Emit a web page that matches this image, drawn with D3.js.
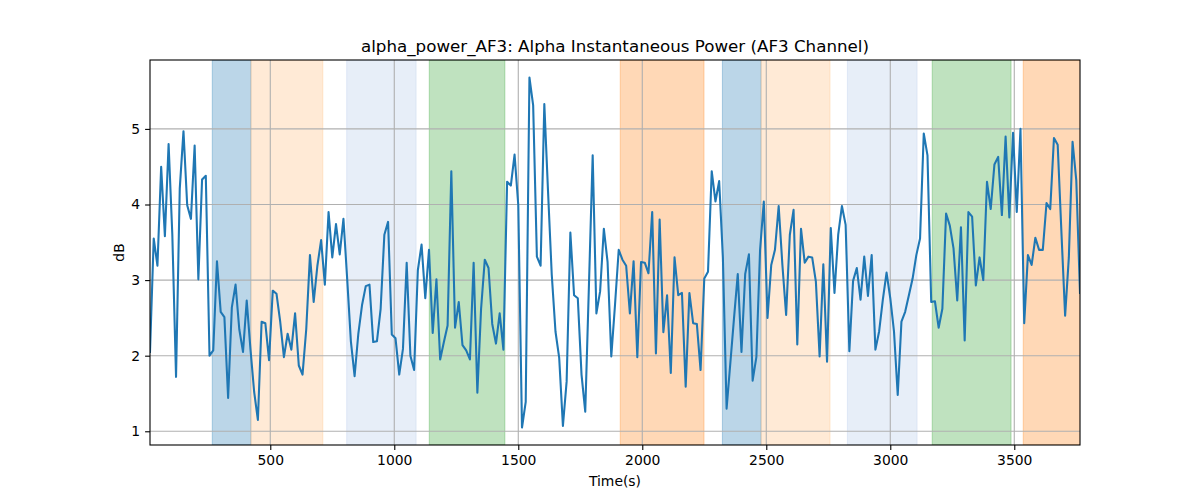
<!DOCTYPE html>
<html>
<head>
<meta charset="utf-8">
<script src="https://cdn.jsdelivr.net/npm/d3@7"></script>
<style>
  body { margin: 0; background: #fff; }
  svg { display: block; font-family: "DejaVu Sans", sans-serif; }
  .tick text { font-size: 13.9px; fill: #000; }
</style>
</head>
<body>
<div id="chart"></div>
<script>
// ==== DATA ====
const STEP = 15; // seconds between samples
const POWER = [
  2.05, 3.55, 3.19, 4.50, 3.58, 4.80, 3.60, 1.72, 4.21, 4.97,
  3.99, 3.81, 4.78, 3.01, 4.33, 4.38, 2.00, 2.07, 3.25, 2.58,
  2.51, 1.44, 2.64, 2.94, 2.35, 2.05, 2.73, 2.09, 1.52, 1.15,
  2.45, 2.43, 1.94, 2.86, 2.82, 2.45, 1.98, 2.29, 2.08, 2.56,
  1.87, 1.75, 2.35, 3.33, 2.71, 3.19, 3.53, 2.94, 3.90, 3.30,
  3.74, 3.34, 3.81, 3.02, 2.19, 1.73, 2.29, 2.67, 2.92, 2.94,
  2.18, 2.19, 2.62, 3.60, 3.77, 2.28, 2.23, 1.75, 2.09, 3.23,
  2.00, 1.81, 3.13, 3.47, 2.76, 3.40, 2.30, 3.01, 1.95, 2.18,
  2.40, 4.44, 2.37, 2.71, 2.14, 2.07, 1.95, 3.23, 1.51, 2.62,
  3.27, 3.16, 2.42, 2.16, 2.56, 2.08, 4.30, 4.25, 4.66, 3.99,
  1.05, 1.39, 5.68, 5.31, 3.31, 3.19, 5.33, 4.17, 3.07, 2.32,
  1.97, 1.07, 1.66, 3.63, 2.80, 2.76, 1.75, 1.26, 2.94, 4.65,
  2.56, 2.85, 3.68, 3.24, 1.99, 2.67, 3.40, 3.27, 3.19, 2.56,
  3.25, 1.98, 3.24, 3.23, 3.09, 3.90, 2.03, 3.80, 2.31, 2.80,
  1.77, 3.30, 2.80, 2.83, 1.59, 2.83, 2.43, 2.42, 1.81, 3.02,
  3.11, 4.44, 4.04, 4.31, 3.30, 1.30, 1.90, 2.50, 3.08, 2.05,
  3.08, 3.34, 1.67, 1.98, 3.40, 4.04, 2.50, 3.20, 3.40, 3.98,
  3.20, 2.54, 3.60, 3.93, 2.15, 3.68, 3.23, 3.31, 3.30, 2.98,
  1.99, 3.21, 1.92, 3.69, 2.83, 3.60, 3.98, 3.73, 2.06, 2.99,
  3.16, 2.74, 3.31, 2.79, 3.33, 2.08, 2.32, 2.74, 3.10, 2.76,
  2.32, 1.48, 2.45, 2.58, 2.80, 3.02, 3.33, 3.55, 4.94, 4.65,
  2.71, 2.72, 2.37, 2.62, 3.88, 3.72, 3.42, 2.73, 3.70, 2.20,
  3.90, 3.84, 2.93, 3.30, 3.00, 4.30, 3.94, 4.53, 4.63, 3.86,
  4.90, 3.83, 4.95, 3.90, 5.00, 2.43, 3.33, 3.20, 3.56, 3.40,
  3.40, 4.02, 3.94, 4.88, 4.79, 3.64, 2.53, 3.30, 4.83, 4.32,
  2.83
];
const TIMES = POWER.map((v, i) => (i + 1) * STEP);

// shaded intervals (seconds) and their colours
const SPAN_START = [266, 422, 808, 1141, 1911, 2323, 2479, 2827, 3169, 3536];
const SPAN_END   = [422, 712, 1088, 1446, 2249, 2479, 2757, 3108, 3487, 3800];
const SPAN_COLOR = ["#1f77b4", "#ffbb78", "#aec7e8", "#2ca02c", "#ff7f0e",
                    "#1f77b4", "#ffbb78", "#aec7e8", "#2ca02c", "#ff7f0e"];

const X_TICKS = [500, 1000, 1500, 2000, 2500, 3000, 3500];
const Y_TICKS = [1, 2, 3, 4, 5];

// ==== SIZE / MARGINS ====
const width = 1200, height = 500;
const margin = { top: 60, right: 120, bottom: 55, left: 150 };

const x = d3.scaleLinear()
  .domain(d3.extent(TIMES))
  .range([margin.left, width - margin.right]);

const yMin = d3.min(POWER), yMax = d3.max(POWER);
const pad = (yMax - yMin) * 0.05;
const y = d3.scaleLinear()
  .domain([yMin - pad, yMax + pad])
  .range([height - margin.bottom, margin.top]);

const svg = d3.select("#chart").append("svg")
  .attr("width", width)
  .attr("height", height);

svg.append("defs").append("clipPath").attr("id", "plot")
  .append("rect")
  .attr("x", margin.left).attr("y", margin.top)
  .attr("width", width - margin.left - margin.right)
  .attr("height", height - margin.top - margin.bottom);

// spans
const spans = SPAN_START.map((s, i) => ({ s, e: SPAN_END[i], c: SPAN_COLOR[i] }));
svg.append("g").attr("clip-path", "url(#plot)")
  .selectAll("rect")
  .data(spans)
  .enter().append("rect")
  .attr("x", d => x(d.s))
  .attr("width", d => x(d.e) - x(d.s))
  .attr("y", margin.top)
  .attr("height", height - margin.top - margin.bottom)
  .attr("fill", d => d.c)
  .attr("fill-opacity", 0.3)
  .attr("stroke", d => d.c)
  .attr("stroke-opacity", 0.3)
  .attr("stroke-width", 1);

// grid
const grid = svg.append("g").attr("stroke", "#b0b0b0").attr("stroke-width", 1.1);
grid.selectAll("line.gx").data(X_TICKS).enter().append("line")
  .attr("x1", d => x(d)).attr("x2", d => x(d))
  .attr("y1", margin.top).attr("y2", height - margin.bottom);
grid.selectAll("line.gy").data(Y_TICKS).enter().append("line")
  .attr("y1", d => y(d)).attr("y2", d => y(d))
  .attr("x1", margin.left).attr("x2", width - margin.right);

// line
const line = d3.line().x((d, i) => x(TIMES[i])).y(d => y(d));
svg.append("path")
  .datum(POWER)
  .attr("clip-path", "url(#plot)")
  .attr("fill", "none")
  .attr("stroke", "#1f77b4")
  .attr("stroke-width", 2.08)
  .attr("stroke-linejoin", "round")
  .attr("stroke-linecap", "square")
  .attr("d", line);

// axes
const gx = svg.append("g")
  .attr("transform", `translate(0,${height - margin.bottom})`)
  .call(d3.axisBottom(x).tickValues(X_TICKS).tickFormat(d3.format("d"))
    .tickSize(4.9).tickPadding(4.9).tickSizeOuter(0));
const gy = svg.append("g")
  .attr("transform", `translate(${margin.left},0)`)
  .call(d3.axisLeft(y).tickValues(Y_TICKS).tickFormat(d3.format("d"))
    .tickSize(4.9).tickPadding(4.9).tickSizeOuter(0));
[gx, gy].forEach(g => {
  g.select(".domain").remove();
  g.selectAll(".tick line").attr("stroke", "#000").attr("stroke-width", 1.1);
  g.selectAll(".tick text").attr("font-family", "DejaVu Sans").attr("font-size", 13.9);
});

// frame
svg.append("rect")
  .attr("x", margin.left).attr("y", margin.top)
  .attr("width", width - margin.left - margin.right)
  .attr("height", height - margin.top - margin.bottom)
  .attr("fill", "none")
  .attr("stroke", "#000")
  .attr("stroke-width", 1.1);

// labels
svg.append("text")
  .attr("x", (margin.left + width - margin.right) / 2)
  .attr("y", 52)
  .attr("text-anchor", "middle")
  .attr("font-size", 16.7)
  .text("alpha_power_AF3: Alpha Instantaneous Power (AF3 Channel)");

svg.append("text")
  .attr("x", (margin.left + width - margin.right) / 2)
  .attr("y", 486)
  .attr("text-anchor", "middle")
  .attr("font-size", 13.9)
  .text("Time(s)");

svg.append("text")
  .attr("transform", `translate(124,${(margin.top + height - margin.bottom) / 2}) rotate(-90)`)
  .attr("text-anchor", "middle")
  .attr("font-size", 13.9)
  .text("dB");
</script>
</body>
</html>
